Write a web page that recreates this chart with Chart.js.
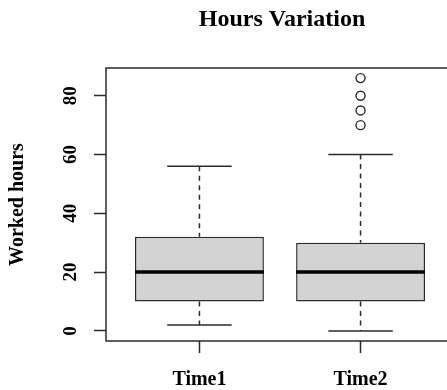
<!DOCTYPE html>
<html>
<head>
<meta charset="utf-8">
<script src="https://cdn.jsdelivr.net/npm/chart.js@4/dist/chart.umd.min.js"></script>
<style>
  html, body { margin: 0; padding: 0; background: #fff; overflow: hidden; width: 447px; height: 390px; }
  canvas { display: block; }
</style>
</head>
<body>
<canvas id="c" width="460" height="390" style="width:460px;height:390px"></canvas>
<script>
// ---- data ----
const categories   = ['Time1', 'Time2'];
const whiskerLow   = [2, 0];
const quartile1    = [10, 10];
const medians      = [20, 20];
const quartile3    = [32, 30];
const whiskerHigh  = [56, 60];
const outliers     = [[], [70, 75, 80, 86]];
const yTickValues  = [0, 20, 40, 60, 80];
const titleText    = 'Hours Variation';
const yAxisTitle   = 'Worked hours';

// ---- derived structures for the library ----
const BOXWEX = 0.8, STAPLE = 0.4;
const allVals = whiskerLow.concat(whiskerHigh, ...outliers);
const dMin = Math.min(...allVals), dMax = Math.max(...allVals);
const yPad = (dMax - dMin) * 0.04;
const nCat = categories.length;
const xPad = nCat * 0.04;

const boxData = categories.map((c, i) => ({x: i + 1, y: [quartile1[i], quartile3[i]]}));
const whiskerData = [], capData = [], medianData = [], outlierData = [];
categories.forEach((c, i) => {
  const x = i + 1;
  whiskerData.push({x, y: whiskerHigh[i]}, {x, y: quartile3[i]}, {x, y: null});
  whiskerData.push({x, y: quartile1[i]}, {x, y: whiskerLow[i]}, {x, y: null});
  capData.push({x: x - STAPLE / 2, y: whiskerHigh[i]}, {x: x + STAPLE / 2, y: whiskerHigh[i]}, {x, y: null});
  capData.push({x: x - STAPLE / 2, y: whiskerLow[i]}, {x: x + STAPLE / 2, y: whiskerLow[i]}, {x, y: null});
  medianData.push({x: x - BOXWEX / 2, y: medians[i]}, {x: x + BOXWEX / 2, y: medians[i]}, {x, y: null});
  outliers[i].forEach(v => outlierData.push({x, y: v}));
});

const INK = '#2b2b2b';
const SERIF = "'Liberation Serif', 'Times New Roman', serif";

const framePlugin = {
  id: 'frameAndText',
  afterDraw(chart) {
    const {ctx, chartArea: a, scales} = chart;
    ctx.save();
    // plot frame
    ctx.strokeStyle = INK;
    ctx.lineWidth = 1.5;
    ctx.strokeRect(a.left, a.top, a.right - a.left, a.bottom - a.top);
    // main title centred over plot region
    ctx.fillStyle = '#000';
    ctx.font = 'bold 24px ' + SERIF;
    ctx.textAlign = 'center';
    ctx.textBaseline = 'alphabetic';
    ctx.fillText(titleText, (a.left + a.right) / 2 + 2, 26);
    // rotated y tick labels
    ctx.font = 'bold 19px ' + SERIF;
    scales.y.ticks.forEach(t => {
      const py = scales.y.getPixelForValue(t.value);
      ctx.save();
      ctx.translate(76, py);
      ctx.rotate(-Math.PI / 2);
      ctx.fillText(String(t.value), 0, 0);
      ctx.restore();
    });
    ctx.restore();
  }
};

new Chart(document.getElementById('c'), {
  type: 'bar',
  data: {
    datasets: [
      {
        type: 'bar', data: boxData,
        backgroundColor: '#d3d3d3', borderColor: INK, borderWidth: 1.5,
        borderSkipped: false, categoryPercentage: 1, barPercentage: BOXWEX, order: 4
      },
      {
        type: 'line', data: whiskerData, borderColor: INK, borderWidth: 1.5,
        borderDash: [5, 4.5], pointRadius: 0, spanGaps: false, fill: false, order: 3
      },
      {
        type: 'line', data: capData, borderColor: INK, borderWidth: 1.5,
        pointRadius: 0, spanGaps: false, fill: false, order: 2
      },
      {
        type: 'line', data: medianData, borderColor: '#000', borderWidth: 3.5,
        pointRadius: 0, spanGaps: false, fill: false, order: 1, borderCapStyle: 'butt'
      },
      {
        type: 'scatter', data: outlierData, showLine: false,
        pointStyle: 'circle', pointRadius: 4.5, pointBorderWidth: 1.4,
        pointBorderColor: INK, pointBackgroundColor: 'rgba(0,0,0,0)', order: 0
      }
    ]
  },
  options: {
    responsive: false,
    animation: false,
    events: [],
    layout: { padding: { top: 68, left: 0, right: 6, bottom: 0 } },
    plugins: { legend: { display: false }, tooltip: { enabled: false }, title: { display: false } },
    scales: {
      x: {
        type: 'linear',
        offset: false,
        min: 0.5 - xPad, max: nCat + 0.5 + xPad,
        afterBuildTicks: s => { s.ticks = categories.map((c, i) => ({value: i + 1})); },
        afterFit: s => { s.height = 49; },
        grid: { display: true, drawOnChartArea: false, drawTicks: true, tickLength: 12,
                tickWidth: 1.5, tickColor: INK, offset: false },
        border: { display: false },
        ticks: {
          autoSkip: false, maxRotation: 0, minRotation: 0, padding: 15,
          color: '#000', font: { family: SERIF, size: 20, weight: 'bold' },
          callback: v => categories[Math.round(v) - 1] || ''
        }
      },
      y: {
        type: 'linear',
        min: dMin - yPad, max: dMax + yPad,
        afterBuildTicks: s => { s.ticks = yTickValues.map(v => ({value: v})); },
        afterFit: s => { s.width = 106; },
        grid: { display: true, drawOnChartArea: false, drawTicks: true, tickLength: 12,
                tickWidth: 1.5, tickColor: INK },
        border: { display: false },
        ticks: { display: false },
        title: {
          display: true, text: yAxisTitle, color: '#000',
          font: { family: SERIF, size: 20, weight: 'bold' },
          padding: { top: 6, bottom: 0 }
        }
      }
    }
  },
  plugins: [framePlugin]
});
</script>
</body>
</html>
